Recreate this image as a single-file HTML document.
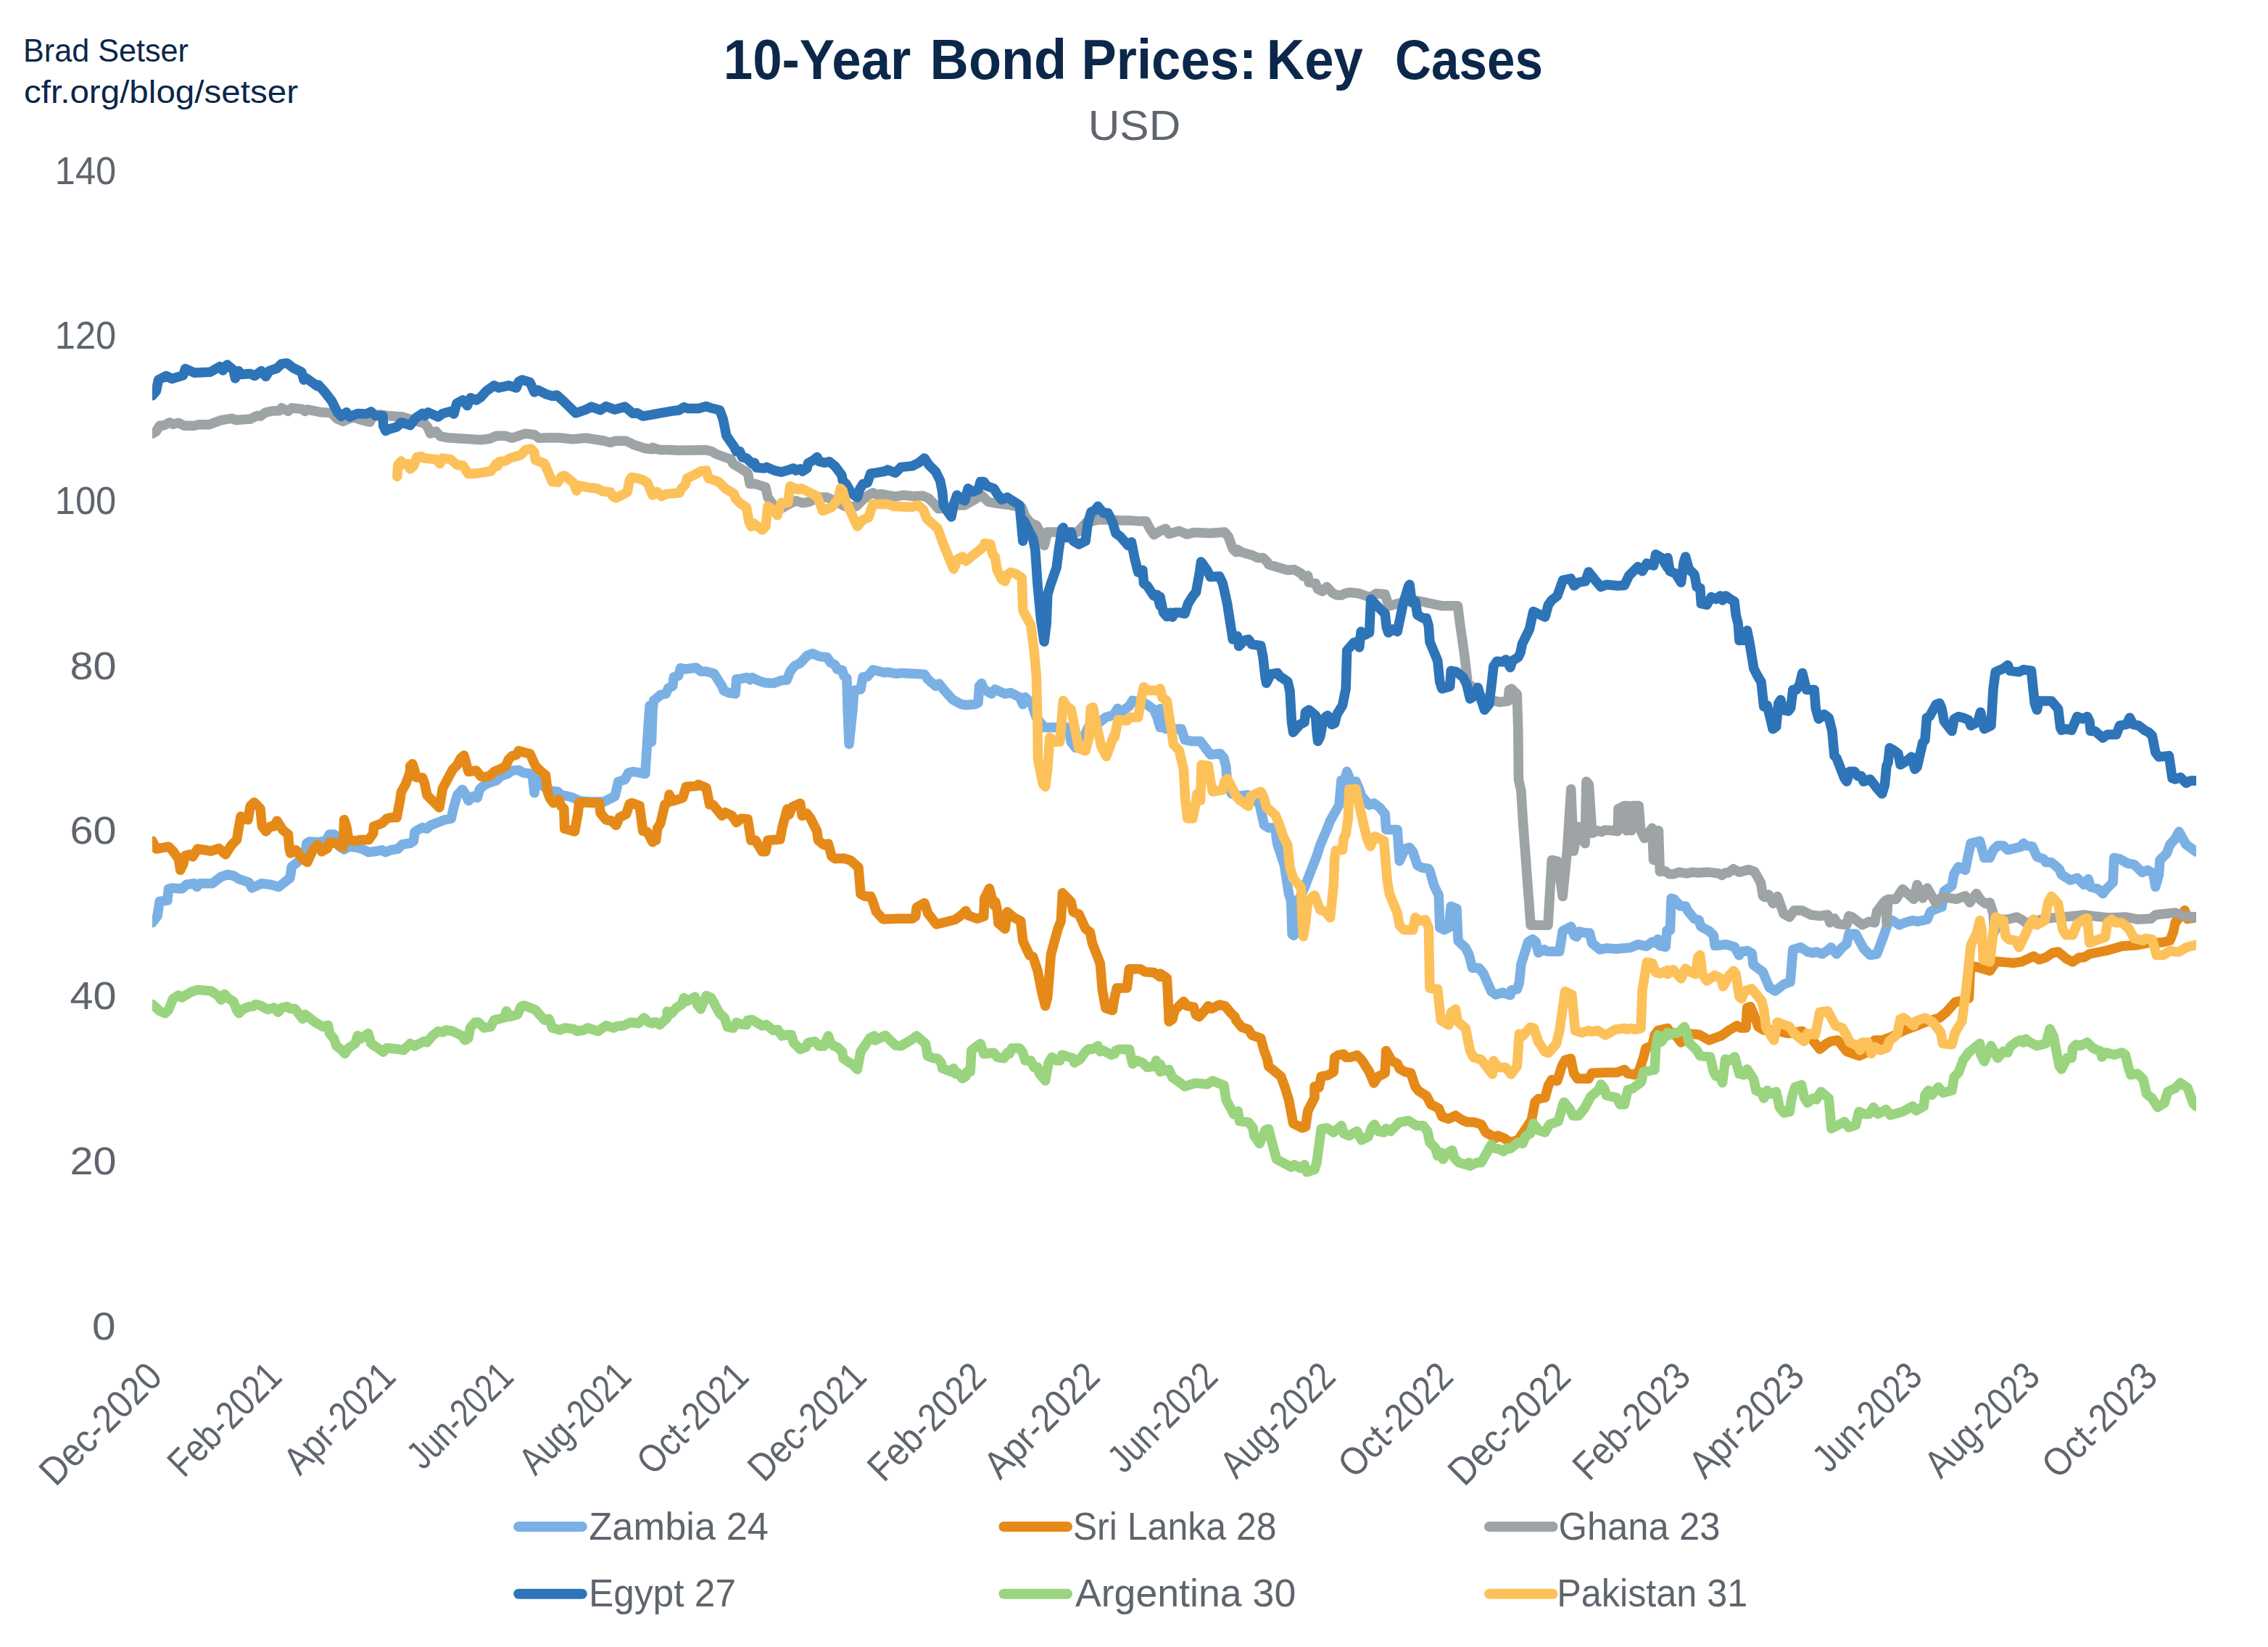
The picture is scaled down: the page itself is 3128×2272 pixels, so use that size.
<!DOCTYPE html>
<html><head><meta charset="utf-8"><title>10-Year Bond Prices: Key Cases</title>
<style>
html,body{margin:0;padding:0;background:#fff;}
body{width:3128px;height:2272px;overflow:hidden;font-family:"Liberation Sans",sans-serif;}
svg{display:block;}
text{font-family:"Liberation Sans",sans-serif;}
</style></head><body>
<svg width="3128" height="2272" viewBox="0 0 3128 2272">
<rect x="0" y="0" width="3128" height="2272" fill="#ffffff"/>
<defs><clipPath id="plot"><rect x="210" y="200" width="2819" height="1700"/></clipPath></defs>
<text x="32.0" y="84.7" font-size="44.0" fill="#0b274a" text-anchor="start" font-weight="normal" textLength="228.0" lengthAdjust="spacingAndGlyphs">Brad Setser</text>
<text x="33.0" y="141.6" font-size="44.0" fill="#0b274a" text-anchor="start" font-weight="normal" textLength="378.0" lengthAdjust="spacingAndGlyphs">cfr.org/blog/setser</text>
<text x="997.8" y="109.0" font-size="77.0" fill="#0b274a" text-anchor="start" font-weight="bold" textLength="258.5" lengthAdjust="spacingAndGlyphs">10-Year</text>
<text x="1282.6" y="109.0" font-size="77.0" fill="#0b274a" text-anchor="start" font-weight="bold" textLength="188.6" lengthAdjust="spacingAndGlyphs">Bond</text>
<text x="1491.5" y="109.0" font-size="77.0" fill="#0b274a" text-anchor="start" font-weight="bold" textLength="241.6" lengthAdjust="spacingAndGlyphs">Prices:</text>
<text x="1746.7" y="109.0" font-size="77.0" fill="#0b274a" text-anchor="start" font-weight="bold" textLength="133.3" lengthAdjust="spacingAndGlyphs">Key</text>
<text x="1924.0" y="109.0" font-size="77.0" fill="#0b274a" text-anchor="start" font-weight="bold" textLength="203.9" lengthAdjust="spacingAndGlyphs">Cases</text>
<text x="1500.7" y="193.0" font-size="58.0" fill="#5f656d" text-anchor="start" font-weight="normal" textLength="127.6" lengthAdjust="spacingAndGlyphs">USD</text>
<text x="127.0" y="1847.5" font-size="54.0" fill="#5f656d" text-anchor="start" font-weight="normal" textLength="32.5" lengthAdjust="spacingAndGlyphs">0</text>
<text x="96.5" y="1619.8" font-size="54.0" fill="#5f656d" text-anchor="start" font-weight="normal" textLength="64.0" lengthAdjust="spacingAndGlyphs">20</text>
<text x="96.5" y="1392.1" font-size="54.0" fill="#5f656d" text-anchor="start" font-weight="normal" textLength="64.0" lengthAdjust="spacingAndGlyphs">40</text>
<text x="96.5" y="1164.4" font-size="54.0" fill="#5f656d" text-anchor="start" font-weight="normal" textLength="64.0" lengthAdjust="spacingAndGlyphs">60</text>
<text x="96.5" y="936.7" font-size="54.0" fill="#5f656d" text-anchor="start" font-weight="normal" textLength="64.0" lengthAdjust="spacingAndGlyphs">80</text>
<text x="75.8" y="709.0" font-size="54.0" fill="#5f656d" text-anchor="start" font-weight="normal" textLength="84.5" lengthAdjust="spacingAndGlyphs">100</text>
<text x="75.8" y="481.3" font-size="54.0" fill="#5f656d" text-anchor="start" font-weight="normal" textLength="84.5" lengthAdjust="spacingAndGlyphs">120</text>
<text x="75.8" y="253.6" font-size="54.0" fill="#5f656d" text-anchor="start" font-weight="normal" textLength="84.5" lengthAdjust="spacingAndGlyphs">140</text>
<g clip-path="url(#plot)" fill="none" stroke-width="13.5" stroke-linejoin="round" stroke-linecap="round">
<path d="M210.2 1272.8 L217.0 1263.6 L220.1 1243.5 L230.9 1242.0 L232.4 1226.5 L237.0 1225.0 L250.9 1225.9 L257.1 1220.3 L267.9 1218.8 L271.6 1223.4 L275.6 1218.8 L292.6 1218.8 L304.9 1209.5 L314.2 1206.5 L321.9 1208.0 L329.6 1212.6 L343.5 1217.3 L347.5 1225.0 L360.5 1218.8 L372.8 1220.3 L384.6 1223.4 L392.9 1216.6 L400.0 1211.1 L402.2 1195.7 L409.9 1189.5 L416.0 1183.3 L420.7 1180.2 L422.8 1163.2 L426.9 1161.1 L440.7 1161.7 L450.0 1158.6 L454.6 1150.9 L460.8 1150.9 L466.0 1158.6 L468.5 1167.9 L474.7 1171.9 L480.9 1167.9 L493.2 1169.4 L499.4 1171.0 L508.6 1175.6 L521.0 1174.0 L527.2 1172.5 L531.8 1175.6 L539.5 1172.5 L548.8 1171.0 L554.9 1164.8 L565.7 1163.2 L570.4 1160.2 L571.9 1147.8 L576.5 1144.7 L582.7 1141.6 L588.9 1143.2 L593.5 1138.6 L613.6 1130.8 L622.2 1129.3 L625.3 1115.4 L627.5 1107.7 L630.6 1096.9 L637.7 1089.2 L642.0 1095.3 L646.0 1104.6 L653.1 1098.4 L658.3 1100.6 L661.4 1089.2 L666.0 1084.5 L673.8 1079.9 L684.6 1076.8 L690.7 1070.7 L700.0 1067.6 L706.2 1062.9 L715.4 1062.3 L721.6 1066.0 L734.0 1067.6 L737.0 1093.8 L738.6 1081.5 L741.7 1076.8 L752.5 1087.6 L758.6 1090.7 L769.4 1092.3 L774.1 1096.3 L789.5 1100.0 L798.8 1104.6 L814.2 1106.1 L832.7 1106.1 L848.1 1098.4 L852.8 1078.4 L862.0 1075.3 L866.7 1066.0 L872.8 1064.5 L879.0 1065.4 L889.8 1067.6 L892.9 1019.7 L896.0 973.4 L898.5 1023.5 L900.0 980.2 L901.5 966.4 L907.7 961.7 L910.8 958.6 L918.5 957.1 L921.6 949.4 L927.8 946.3 L929.3 934.0 L935.5 932.4 L938.6 921.6 L944.8 923.1 L960.2 921.0 L966.4 926.2 L974.1 926.2 L984.9 929.3 L995.7 946.3 L998.1 952.5 L1004.9 955.6 L1014.2 957.1 L1015.7 937.0 L1021.9 936.4 L1029.6 934.6 L1034.3 937.7 L1037.3 934.6 L1045.1 938.6 L1054.3 941.7 L1066.7 942.6 L1077.5 938.6 L1085.2 938.0 L1089.8 926.2 L1096.0 918.5 L1103.7 914.8 L1113.0 904.6 L1120.7 901.5 L1129.9 905.6 L1140.7 906.8 L1145.4 913.9 L1151.5 917.0 L1154.6 923.1 L1161.7 924.7 L1163.9 932.4 L1167.9 935.5 L1169.1 980.2 L1171.0 1026.5 L1176.2 977.2 L1177.8 952.5 L1187.0 950.9 L1190.1 934.0 L1196.3 933.3 L1204.0 924.1 L1219.4 927.8 L1224.1 927.2 L1236.4 929.3 L1244.1 928.4 L1275.0 930.2 L1279.6 937.0 L1290.4 946.3 L1295.1 943.2 L1301.2 950.9 L1313.6 964.8 L1325.9 971.6 L1332.1 972.5 L1344.4 971.6 L1349.1 969.4 L1350.6 946.3 L1353.7 942.6 L1356.8 950.9 L1367.6 957.1 L1372.2 950.9 L1386.1 957.1 L1393.8 955.6 L1406.2 961.7 L1410.8 971.6 L1413.9 961.7 L1423.1 971.0 L1429.3 989.5 L1440.1 1003.4 L1455.6 1003.4 L1467.9 1001.9 L1474.1 1006.5 L1477.2 1023.5 L1483.3 1031.2 L1492.6 1026.5 L1495.7 1014.2 L1504.9 995.7 L1517.3 995.7 L1525.0 989.5 L1535.8 986.4 L1541.4 977.2 L1546.6 981.8 L1557.4 974.1 L1562.0 966.4 L1580.6 971.0 L1591.4 978.7 L1596.0 989.5 L1600.0 1003.4 L1600.0 977.8 L1604.6 1002.5 L1607.7 1005.6 L1629.3 1005.6 L1634.0 1020.4 L1643.2 1022.5 L1655.6 1022.5 L1669.4 1041.0 L1682.7 1039.5 L1688.0 1045.7 L1691.0 1058.0 L1692.6 1082.7 L1698.8 1095.1 L1709.6 1098.1 L1720.4 1096.6 L1729.6 1099.7 L1737.3 1110.5 L1743.5 1138.3 L1749.7 1142.0 L1759.0 1142.0 L1760.5 1156.8 L1762.0 1165.4 L1771.3 1193.2 L1777.5 1233.3 L1780.6 1242.6 L1782.1 1288.9 L1784.6 1290.4 L1786.4 1251.9 L1800.6 1221.0 L1802.2 1216.4 L1816.0 1180.9 L1820.7 1166.0 L1829.9 1144.4 L1834.6 1132.1 L1846.9 1110.5 L1850.0 1076.5 L1854.6 1075.0 L1857.7 1064.2 L1860.8 1071.9 L1862.3 1079.6 L1870.1 1078.1 L1874.7 1088.9 L1877.8 1098.1 L1888.6 1110.5 L1894.8 1108.0 L1902.5 1113.6 L1910.2 1122.8 L1911.7 1144.4 L1927.2 1144.4 L1930.2 1187.7 L1938.0 1170.7 L1944.1 1169.1 L1948.8 1175.3 L1954.9 1193.8 L1961.1 1196.9 L1970.4 1198.5 L1971.9 1200.9 L1978.1 1222.5 L1984.3 1234.9 L1985.8 1279.6 L1992.0 1282.7 L1998.1 1279.6 L2001.2 1250.3 L2009.0 1253.4 L2011.1 1298.1 L2021.3 1307.4 L2025.9 1316.7 L2030.6 1335.2 L2039.8 1335.2 L2046.0 1342.9 L2056.8 1367.6 L2063.0 1372.2 L2072.2 1369.1 L2083.0 1372.8 L2084.6 1366.0 L2092.3 1364.5 L2095.4 1355.2 L2097.9 1330.3 L2107.6 1299.3 L2113.8 1295.7 L2118.2 1299.3 L2121.7 1314.3 L2129.7 1309.8 L2134.1 1312.5 L2150.8 1312.5 L2155.2 1284.3 L2166.7 1278.1 L2171.1 1290.4 L2174.6 1292.2 L2178.2 1285.1 L2186.1 1286.9 L2192.3 1286.9 L2195.8 1301.0 L2206.4 1309.8 L2215.2 1308.1 L2229.3 1309.0 L2248.7 1307.2 L2259.3 1302.8 L2270.8 1305.4 L2278.7 1299.3 L2283.1 1301.0 L2286.6 1295.7 L2289.3 1304.6 L2297.2 1306.3 L2299.0 1283.4 L2303.4 1283.4 L2305.1 1239.3 L2308.7 1240.2 L2317.5 1249.9 L2324.6 1249.9 L2328.1 1256.9 L2336.9 1267.5 L2343.1 1269.3 L2345.7 1278.1 L2357.2 1284.3 L2363.4 1290.4 L2365.1 1304.6 L2373.1 1303.7 L2380.1 1302.8 L2392.5 1306.3 L2398.6 1317.8 L2402.2 1312.5 L2410.1 1311.6 L2416.3 1315.1 L2418.0 1330.3 L2418.8 1331.5 L2431.2 1340.7 L2440.4 1362.3 L2448.1 1367.0 L2454.3 1362.3 L2460.5 1357.7 L2469.1 1354.6 L2472.8 1309.9 L2483.6 1306.8 L2492.9 1313.0 L2500.6 1314.5 L2505.2 1313.0 L2513.0 1316.0 L2522.2 1309.9 L2525.3 1306.8 L2533.0 1316.0 L2540.7 1306.8 L2546.9 1302.2 L2550.0 1288.3 L2559.3 1288.3 L2570.1 1308.3 L2579.3 1317.6 L2588.6 1316.0 L2597.8 1291.4 L2604.0 1272.8 L2610.2 1269.8 L2619.4 1275.9 L2627.2 1272.8 L2638.0 1269.8 L2644.1 1271.3 L2658.0 1268.2 L2662.7 1257.4 L2668.8 1254.3 L2678.1 1251.2 L2681.2 1229.6 L2692.0 1221.9 L2695.1 1204.9 L2701.2 1195.7 L2710.5 1200.3 L2715.1 1177.2 L2718.2 1163.3 L2730.6 1160.2 L2736.7 1183.3 L2744.4 1183.3 L2749.1 1172.5 L2755.2 1166.4 L2763.0 1166.4 L2769.1 1172.5 L2787.7 1167.9 L2790.7 1163.3 L2793.8 1166.4 L2803.1 1167.9 L2809.3 1181.8 L2818.5 1184.9 L2821.6 1189.5 L2829.3 1189.5 L2840.1 1198.8 L2843.2 1206.5 L2855.6 1214.2 L2864.8 1211.1 L2874.1 1220.4 L2880.2 1212.7 L2883.3 1223.5 L2894.1 1226.5 L2900.3 1232.7 L2904.9 1226.5 L2914.2 1217.3 L2915.7 1183.3 L2923.5 1184.9 L2934.3 1191.0 L2943.5 1192.6 L2954.3 1203.4 L2962.0 1200.3 L2969.8 1204.9 L2972.8 1223.5 L2977.5 1206.5 L2979.0 1186.4 L2988.3 1177.2 L2992.9 1164.8 L3000.0 1157.1 L3005.2 1147.3 L3015.1 1165.1 L3028.9 1174.9" stroke="#7bb0e4"/>
<path d="M210.2 1160.2 L215.4 1171.0 L224.7 1169.4 L232.4 1167.9 L238.6 1174.0 L246.3 1184.9 L248.8 1200.3 L252.5 1192.6 L255.6 1180.2 L261.7 1178.7 L265.7 1181.8 L272.5 1171.0 L291.0 1174.0 L301.9 1170.3 L311.1 1178.7 L318.8 1166.3 L326.5 1158.6 L329.6 1140.1 L332.1 1126.2 L342.0 1130.8 L345.1 1112.3 L350.6 1106.8 L359.0 1115.4 L361.4 1140.1 L366.7 1146.9 L372.8 1140.1 L377.5 1140.1 L382.1 1132.4 L389.8 1144.7 L397.5 1150.9 L399.1 1171.0 L400.6 1177.1 L408.3 1172.5 L416.0 1183.3 L423.8 1189.5 L431.5 1172.5 L438.3 1165.4 L443.8 1174.7 L451.5 1170.3 L454.6 1161.7 L462.3 1163.2 L473.1 1168.8 L474.7 1130.8 L477.8 1140.1 L480.9 1158.6 L490.1 1160.2 L496.3 1158.6 L508.6 1158.6 L514.8 1149.4 L515.4 1140.1 L527.2 1135.5 L533.3 1129.3 L539.5 1127.8 L547.2 1127.8 L551.9 1103.1 L553.4 1092.3 L559.6 1081.5 L565.7 1064.5 L565.7 1056.8 L568.8 1053.7 L571.9 1062.9 L574.1 1072.2 L582.7 1072.8 L585.8 1081.5 L588.9 1096.9 L593.5 1101.5 L599.7 1107.7 L605.9 1113.9 L608.3 1100.0 L610.5 1087.6 L624.4 1061.4 L630.6 1055.2 L635.2 1046.0 L639.8 1042.0 L642.3 1050.6 L646.0 1064.5 L656.8 1062.9 L663.0 1070.7 L669.1 1072.2 L676.9 1069.1 L681.5 1064.5 L692.3 1059.9 L697.5 1056.8 L701.5 1047.5 L706.2 1042.9 L712.3 1041.3 L715.4 1035.8 L721.6 1037.6 L730.9 1039.8 L738.6 1056.8 L746.3 1064.5 L752.5 1069.1 L755.6 1093.8 L758.6 1101.5 L763.3 1107.7 L771.0 1103.1 L774.1 1112.3 L777.8 1115.4 L778.7 1143.2 L792.6 1146.9 L797.2 1121.6 L798.8 1106.8 L826.5 1107.7 L828.1 1121.6 L835.8 1130.8 L843.5 1132.4 L849.7 1138.6 L854.3 1127.8 L863.6 1123.1 L868.2 1109.2 L871.3 1107.7 L882.1 1111.7 L886.7 1146.3 L892.9 1147.8 L900.0 1161.7 L900.0 1159.3 L904.6 1159.3 L906.8 1142.3 L910.8 1136.1 L917.0 1109.9 L921.6 1106.8 L923.1 1096.0 L927.8 1105.2 L941.7 1100.6 L946.3 1085.2 L960.2 1084.6 L963.3 1082.1 L974.1 1086.7 L978.7 1109.9 L983.3 1109.9 L995.7 1125.3 L1000.3 1120.7 L1009.6 1125.3 L1015.7 1134.6 L1021.9 1129.3 L1031.2 1129.9 L1035.8 1159.3 L1042.0 1159.3 L1051.2 1174.7 L1055.9 1174.7 L1059.0 1159.3 L1075.9 1157.7 L1079.0 1140.7 L1085.8 1116.0 L1088.3 1123.8 L1092.9 1113.0 L1103.7 1108.3 L1106.2 1125.3 L1113.0 1122.2 L1117.6 1128.4 L1126.9 1146.9 L1128.4 1159.3 L1136.1 1165.4 L1142.3 1163.9 L1146.9 1180.9 L1151.5 1184.6 L1163.9 1184.0 L1173.1 1187.0 L1184.0 1196.3 L1187.0 1233.3 L1193.2 1236.4 L1200.9 1236.4 L1204.0 1244.1 L1208.6 1258.0 L1217.9 1267.9 L1239.5 1267.3 L1258.0 1267.3 L1262.7 1264.2 L1264.2 1251.9 L1275.0 1245.7 L1279.6 1259.6 L1291.4 1275.0 L1298.1 1273.5 L1316.7 1268.8 L1324.4 1263.6 L1332.1 1256.5 L1335.2 1262.7 L1347.5 1267.3 L1356.8 1264.2 L1357.7 1239.5 L1364.5 1225.6 L1370.7 1248.8 L1372.8 1244.1 L1375.3 1254.9 L1376.9 1273.5 L1386.1 1281.2 L1389.2 1258.0 L1398.5 1265.7 L1407.7 1270.4 L1410.8 1298.1 L1420.1 1318.2 L1424.7 1319.8 L1430.9 1338.3 L1437.0 1369.1 L1441.7 1387.7 L1444.8 1375.3 L1449.4 1316.7 L1458.6 1282.7 L1463.3 1270.4 L1465.4 1231.8 L1477.2 1244.1 L1480.2 1258.0 L1488.0 1261.1 L1497.2 1281.2 L1503.4 1285.8 L1506.5 1301.2 L1517.3 1329.0 L1520.4 1366.0 L1525.0 1390.7 L1534.3 1393.8 L1537.3 1375.3 L1540.4 1363.0 L1554.3 1363.0 L1557.4 1336.7 L1572.8 1336.7 L1579.0 1340.7 L1591.4 1341.4 L1600.0 1347.5 L1600.0 1342.9 L1609.3 1349.1 L1610.8 1375.3 L1612.3 1409.3 L1617.0 1406.2 L1620.1 1393.8 L1632.4 1381.5 L1637.0 1387.7 L1646.3 1389.2 L1649.4 1400.0 L1654.0 1402.5 L1661.7 1393.8 L1666.4 1387.7 L1671.0 1391.4 L1681.8 1386.1 L1689.5 1387.7 L1697.2 1396.9 L1703.4 1403.1 L1704.9 1407.7 L1712.7 1417.0 L1721.9 1420.1 L1726.5 1427.8 L1738.9 1432.4 L1743.5 1449.4 L1748.1 1461.7 L1749.7 1471.0 L1766.7 1484.9 L1772.8 1501.9 L1777.5 1517.3 L1783.6 1549.7 L1796.0 1555.9 L1800.6 1554.3 L1803.7 1532.7 L1813.0 1514.2 L1813.0 1498.8 L1819.1 1500.3 L1822.2 1484.9 L1831.5 1483.3 L1839.2 1478.7 L1840.7 1458.6 L1845.4 1455.6 L1853.1 1454.0 L1856.2 1458.6 L1862.3 1458.6 L1871.6 1455.6 L1877.8 1461.7 L1888.6 1478.7 L1894.8 1494.1 L1900.9 1484.9 L1910.2 1480.2 L1911.7 1449.4 L1919.4 1463.3 L1927.2 1467.3 L1930.2 1474.1 L1938.0 1478.7 L1945.7 1480.2 L1951.9 1498.8 L1956.5 1504.9 L1967.3 1511.7 L1973.5 1523.5 L1984.3 1529.0 L1988.9 1540.4 L1998.1 1543.5 L2007.4 1538.9 L2016.7 1545.1 L2024.4 1548.1 L2033.6 1548.1 L2042.9 1551.2 L2049.1 1562.0 L2063.0 1569.8 L2066.0 1566.7 L2075.3 1570.4 L2081.5 1575.9 L2093.8 1572.8 L2106.2 1554.3 L2112.3 1545.1 L2117.0 1520.4 L2121.6 1515.7 L2130.9 1514.2 L2135.5 1497.2 L2140.1 1489.5 L2147.8 1491.0 L2154.0 1471.0 L2158.6 1462.3 L2166.4 1460.2 L2170.4 1480.2 L2175.6 1488.0 L2186.4 1488.0 L2191.0 1488.0 L2195.7 1480.2 L2214.2 1479.6 L2229.6 1479.6 L2240.4 1475.6 L2245.1 1480.9 L2254.3 1482.7 L2260.5 1477.2 L2266.7 1458.6 L2269.8 1446.3 L2279.0 1441.7 L2282.1 1427.8 L2286.7 1421.6 L2300.0 1418.5 L2300.0 1422.5 L2306.2 1424.1 L2313.9 1431.8 L2318.5 1438.0 L2326.2 1425.6 L2343.2 1427.2 L2357.1 1434.9 L2374.1 1428.7 L2384.9 1421.0 L2395.7 1414.8 L2400.3 1417.9 L2408.0 1417.9 L2409.6 1390.1 L2414.2 1388.6 L2418.8 1399.4 L2425.0 1416.4 L2432.7 1421.0 L2445.1 1421.0 L2466.7 1425.6 L2485.2 1422.5 L2497.5 1431.8 L2509.9 1447.2 L2519.1 1439.5 L2525.3 1436.4 L2534.6 1434.9 L2546.9 1450.3 L2563.9 1456.5 L2574.7 1451.9 L2585.5 1434.9 L2596.3 1434.9 L2608.6 1430.2 L2627.2 1421.0 L2639.5 1416.4 L2654.9 1410.2 L2675.0 1404.0 L2684.3 1396.3 L2696.6 1382.4 L2710.5 1379.3 L2715.4 1376.9 L2717.6 1332.1 L2731.2 1335.2 L2744.4 1339.2 L2753.1 1326.2 L2776.9 1328.4 L2787.7 1326.9 L2804.6 1319.1 L2812.3 1323.8 L2821.6 1320.7 L2830.9 1314.5 L2838.6 1313.0 L2849.4 1322.2 L2858.6 1326.9 L2867.9 1320.7 L2874.1 1320.7 L2881.8 1316.0 L2904.9 1311.4 L2926.5 1305.2 L2948.1 1303.7 L2963.6 1300.6 L2982.1 1300.0 L2992.9 1297.5 L2997.5 1285.2 L3000.0 1272.8 L3009.2 1261.8 L3013.1 1255.8 L3017.0 1267.7 L3028.9 1265.7" stroke="#e58a18"/>
<path d="M210.2 598.1 L215.4 595.1 L220.1 587.3 L226.2 586.7 L234.0 582.7 L238.6 585.2 L246.3 583.3 L254.0 587.3 L267.9 587.3 L274.1 585.8 L288.0 585.8 L304.9 579.6 L320.4 577.2 L325.0 579.6 L345.1 578.1 L354.3 573.5 L359.0 574.1 L366.7 568.8 L377.5 566.7 L385.2 566.7 L388.3 562.7 L397.5 567.3 L402.2 562.7 L416.0 564.2 L420.7 567.3 L423.8 564.8 L443.8 568.8 L456.2 569.4 L465.4 578.1 L473.1 581.2 L484.0 576.5 L490.1 576.5 L499.4 579.6 L510.2 582.1 L514.8 573.5 L524.1 571.9 L534.9 573.5 L554.9 575.0 L570.4 579.6 L585.8 584.3 L590.4 590.4 L593.5 598.1 L601.2 595.1 L607.4 601.9 L616.7 603.7 L663.0 606.8 L675.3 605.2 L684.6 601.2 L696.9 601.2 L706.2 604.3 L715.4 601.2 L724.7 598.1 L737.0 599.7 L743.2 604.3 L771.0 603.7 L789.5 605.9 L808.0 604.3 L832.7 608.0 L842.0 610.5 L848.1 608.3 L863.6 608.3 L874.4 613.6 L888.3 618.2 L900.0 619.8 L900.0 617.3 L909.3 620.4 L921.6 620.4 L937.0 621.3 L974.1 620.7 L981.8 622.8 L988.0 626.5 L1008.0 633.6 L1011.1 639.8 L1031.2 652.2 L1034.3 667.6 L1042.0 667.6 L1055.9 672.2 L1059.0 686.1 L1066.7 696.9 L1079.0 700.6 L1085.2 696.9 L1097.5 690.7 L1106.8 693.8 L1116.0 692.3 L1128.4 686.1 L1140.7 686.1 L1156.2 693.8 L1165.4 698.5 L1180.9 698.5 L1190.1 689.2 L1197.8 683.0 L1204.0 679.9 L1210.2 683.0 L1214.8 681.5 L1234.9 685.2 L1245.7 683.0 L1261.1 684.6 L1273.5 684.0 L1281.2 687.7 L1288.9 695.4 L1293.5 701.5 L1301.2 701.5 L1316.7 696.9 L1330.6 696.9 L1344.4 689.2 L1353.7 683.0 L1363.0 692.3 L1381.5 695.4 L1393.8 696.9 L1409.3 700.0 L1413.9 712.3 L1421.6 721.6 L1429.3 724.7 L1435.5 735.5 L1440.1 752.5 L1444.8 734.0 L1486.4 734.0 L1497.2 721.6 L1514.2 717.0 L1529.6 717.0 L1548.1 717.9 L1559.0 717.9 L1572.8 719.1 L1580.6 719.1 L1586.7 730.9 L1591.4 737.7 L1600.0 732.4 L1600.0 732.4 L1607.7 729.3 L1612.3 736.4 L1626.2 732.4 L1637.0 737.0 L1646.3 734.6 L1669.4 735.5 L1688.9 734.0 L1694.1 740.1 L1700.3 757.1 L1704.9 761.7 L1706.5 758.0 L1714.2 762.3 L1726.5 765.7 L1734.3 769.4 L1742.0 769.4 L1748.1 775.6 L1749.7 778.7 L1775.9 786.4 L1785.2 785.8 L1794.4 791.0 L1797.5 795.1 L1803.7 794.1 L1805.2 803.4 L1814.5 804.9 L1817.6 812.7 L1823.8 815.7 L1829.9 809.6 L1837.7 817.9 L1843.8 821.0 L1850.0 821.0 L1856.2 818.2 L1862.3 817.3 L1874.7 818.8 L1890.1 824.1 L1897.8 818.8 L1910.2 819.8 L1913.3 829.6 L1916.4 835.8 L1927.2 832.7 L1942.6 828.1 L1951.9 828.1 L1967.3 831.2 L1973.5 832.7 L1988.9 835.8 L2010.5 835.8 L2013.6 860.5 L2019.8 903.7 L2024.4 943.8 L2030.6 946.9 L2044.4 962.3 L2061.4 967.0 L2069.1 968.5 L2079.9 967.0 L2081.5 951.5 L2084.6 950.0 L2092.3 957.7 L2093.8 1008.6 L2094.4 1075.0 L2097.9 1091.1 L2100.6 1135.2 L2111.1 1276.3 L2135.0 1276.3 L2140.2 1186.4 L2148.2 1188.1 L2155.2 1236.6 L2161.4 1174.0 L2166.7 1088.5 L2170.2 1174.0 L2177.3 1140.5 L2186.1 1163.5 L2187.9 1077.9 L2191.4 1082.3 L2195.8 1149.3 L2203.7 1145.8 L2209.0 1147.6 L2213.4 1144.9 L2224.9 1145.8 L2231.1 1146.7 L2232.0 1115.8 L2240.8 1111.4 L2243.4 1145.8 L2245.2 1111.4 L2249.6 1145.8 L2251.4 1111.4 L2260.2 1111.4 L2262.8 1145.8 L2268.1 1156.4 L2278.7 1142.3 L2280.5 1186.4 L2283.1 1145.8 L2287.5 1145.8 L2289.3 1202.3 L2296.3 1201.4 L2302.5 1205.8 L2307.8 1205.8 L2315.7 1203.1 L2326.3 1204.9 L2334.3 1203.1 L2342.2 1204.0 L2356.3 1203.1 L2370.4 1204.9 L2374.8 1207.5 L2379.2 1204.0 L2383.6 1204.0 L2390.7 1198.7 L2398.6 1203.1 L2411.9 1199.6 L2419.8 1202.3 L2428.6 1218.1 L2431.3 1235.8 L2433.9 1237.5 L2439.2 1234.0 L2445.4 1246.3 L2451.5 1236.6 L2460.0 1260.5 L2468.2 1265.1 L2474.4 1255.9 L2485.2 1255.9 L2497.5 1262.0 L2509.9 1263.6 L2520.7 1262.0 L2523.8 1272.8 L2529.9 1266.7 L2534.6 1274.4 L2546.9 1275.9 L2550.0 1263.6 L2554.6 1265.1 L2560.8 1269.8 L2568.5 1275.9 L2577.8 1271.3 L2585.5 1272.8 L2588.6 1257.4 L2597.8 1245.1 L2600.9 1242.0 L2601.9 1272.8 L2604.0 1240.4 L2614.8 1240.4 L2624.1 1226.5 L2639.5 1240.4 L2644.1 1220.4 L2651.9 1238.9 L2658.0 1225.0 L2664.2 1235.8 L2670.4 1246.6 L2678.1 1237.3 L2688.9 1238.9 L2698.1 1240.4 L2710.5 1235.8 L2716.7 1245.1 L2725.9 1232.7 L2732.1 1242.0 L2738.3 1246.6 L2744.4 1245.1 L2749.1 1260.5 L2750.6 1285.2 L2759.9 1268.2 L2769.1 1268.2 L2781.5 1265.1 L2787.7 1268.2 L2793.8 1272.8 L2824.7 1266.7 L2843.2 1265.1 L2861.7 1263.6 L2874.1 1262.0 L2886.4 1263.6 L2908.0 1266.0 L2932.7 1265.1 L2948.1 1268.2 L2966.7 1267.3 L2972.8 1262.0 L3000.0 1259.0 L3013.1 1263.7 L3028.9 1264.9" stroke="#9ea3a5"/>
<path d="M210.2 545.7 L215.4 539.5 L218.5 524.1 L229.3 518.5 L237.0 522.5 L252.5 517.9 L255.6 508.6 L267.9 514.2 L289.5 513.3 L303.4 505.6 L307.4 511.1 L313.3 503.1 L321.9 510.2 L324.4 521.9 L329.0 511.7 L332.7 516.4 L345.1 515.4 L351.2 518.5 L360.5 511.7 L366.7 519.4 L371.3 511.7 L382.1 508.0 L388.3 501.9 L396.0 500.9 L403.7 507.1 L416.0 513.3 L419.1 524.1 L422.2 521.6 L437.7 532.7 L439.2 530.9 L446.9 539.5 L457.7 553.4 L462.3 562.7 L465.4 568.8 L470.7 574.4 L477.8 568.8 L482.4 575.0 L493.2 570.4 L505.6 571.0 L511.7 567.9 L517.9 573.5 L527.8 573.5 L528.7 587.3 L531.8 594.4 L536.4 592.0 L547.2 588.9 L553.4 582.7 L565.7 586.7 L573.5 576.5 L582.7 570.4 L585.8 573.5 L590.4 568.8 L604.3 575.0 L610.5 570.4 L624.4 566.7 L625.9 571.0 L629.9 556.5 L638.3 551.9 L644.4 559.6 L649.1 548.8 L656.8 551.9 L663.0 548.1 L670.7 539.5 L681.5 531.8 L687.7 534.9 L701.5 531.8 L712.3 534.9 L715.4 526.5 L720.1 524.1 L730.9 527.2 L737.0 541.0 L741.7 538.0 L754.0 544.1 L761.7 546.3 L767.9 545.1 L775.6 551.9 L794.1 569.8 L806.5 565.7 L815.7 561.1 L828.1 565.7 L835.8 560.5 L848.1 565.1 L862.0 561.1 L872.8 570.4 L879.0 569.8 L886.7 574.1 L900.0 571.9 L900.0 571.9 L907.7 570.4 L929.3 566.7 L937.0 565.7 L943.2 561.7 L949.4 563.6 L963.3 563.6 L974.1 560.5 L980.2 562.7 L992.6 565.7 L997.2 578.1 L1001.9 601.2 L1012.7 616.7 L1015.7 622.8 L1020.4 622.8 L1023.5 630.6 L1029.6 632.1 L1037.3 639.8 L1040.4 638.3 L1043.5 645.1 L1054.3 646.0 L1057.4 644.4 L1068.2 649.1 L1077.5 651.2 L1085.2 649.1 L1094.4 646.0 L1097.5 649.1 L1103.7 646.9 L1106.8 650.0 L1113.0 646.0 L1114.5 638.9 L1122.2 634.6 L1126.9 630.6 L1129.9 636.7 L1137.7 638.3 L1143.8 636.7 L1151.5 642.9 L1160.8 655.2 L1162.3 663.0 L1167.0 667.6 L1173.1 678.4 L1177.8 683.0 L1182.4 686.1 L1185.5 675.3 L1190.1 667.6 L1196.3 666.0 L1200.9 653.1 L1208.6 652.2 L1221.0 650.0 L1224.1 648.1 L1234.9 652.2 L1242.6 644.4 L1258.0 642.9 L1267.3 638.3 L1275.0 632.1 L1281.2 641.4 L1290.4 650.6 L1296.6 663.0 L1299.7 678.4 L1301.2 696.9 L1307.4 706.2 L1312.0 713.0 L1315.1 696.9 L1319.8 683.0 L1325.9 687.7 L1330.6 690.7 L1335.2 673.8 L1341.4 678.4 L1349.1 675.3 L1352.2 664.5 L1356.8 664.5 L1361.4 670.7 L1370.7 673.8 L1375.3 681.5 L1381.5 689.2 L1389.2 686.1 L1406.2 696.9 L1410.8 746.3 L1412.3 718.5 L1424.7 743.2 L1427.8 758.6 L1430.9 804.9 L1435.5 854.3 L1440.1 885.2 L1443.2 860.5 L1444.8 820.4 L1449.4 804.9 L1457.1 783.3 L1460.2 758.6 L1464.8 729.3 L1466.4 727.8 L1471.0 741.7 L1477.2 734.0 L1480.2 746.3 L1488.0 750.9 L1497.2 746.3 L1500.3 721.6 L1504.9 706.2 L1509.6 704.6 L1514.2 698.5 L1521.9 707.7 L1528.1 707.7 L1534.3 720.1 L1538.9 735.5 L1545.1 740.1 L1555.9 752.5 L1560.5 747.8 L1565.1 771.0 L1569.8 789.5 L1575.9 786.4 L1577.5 804.9 L1582.1 808.0 L1591.4 821.9 L1596.0 820.4 L1600.0 835.8 L1600.0 823.5 L1604.6 845.1 L1609.3 850.6 L1613.9 845.1 L1617.0 851.2 L1620.1 845.1 L1627.8 845.1 L1634.0 846.6 L1638.6 832.7 L1646.3 820.4 L1649.4 817.3 L1654.0 792.6 L1656.5 775.0 L1664.8 786.4 L1669.4 795.7 L1681.8 795.1 L1686.4 804.9 L1692.6 832.7 L1700.3 882.1 L1706.5 877.5 L1708.6 891.4 L1715.7 883.6 L1721.9 882.1 L1726.5 888.9 L1738.9 890.7 L1742.0 906.8 L1745.1 934.6 L1746.6 942.3 L1752.8 929.9 L1762.0 928.4 L1765.1 933.0 L1775.9 940.1 L1779.0 953.1 L1781.5 996.3 L1783.6 1010.2 L1792.9 999.4 L1799.1 996.3 L1800.6 982.4 L1805.2 979.3 L1814.5 987.0 L1816.0 1008.6 L1817.6 1022.5 L1820.7 1016.4 L1825.3 991.7 L1830.9 987.0 L1837.0 999.4 L1840.7 997.8 L1843.8 985.5 L1851.5 973.1 L1856.2 950.0 L1857.7 897.5 L1867.0 886.7 L1871.6 885.2 L1874.7 892.9 L1877.2 871.3 L1882.4 875.9 L1888.6 872.8 L1890.7 826.5 L1897.8 834.3 L1910.2 846.6 L1912.3 865.1 L1914.8 872.8 L1921.0 868.2 L1927.2 871.3 L1934.9 834.3 L1942.6 808.6 L1944.1 806.5 L1947.2 831.2 L1951.9 829.6 L1954.9 848.1 L1962.7 852.8 L1967.3 852.8 L1970.4 863.6 L1971.9 885.2 L1982.7 911.4 L1985.8 940.7 L1988.9 950.0 L1999.7 946.9 L2001.2 925.3 L2009.0 926.9 L2018.2 934.6 L2022.8 943.8 L2027.5 963.9 L2032.1 960.8 L2038.3 948.5 L2042.9 965.4 L2047.5 979.3 L2053.7 971.6 L2056.8 946.9 L2059.9 919.1 L2064.5 912.3 L2072.2 913.0 L2076.9 909.9 L2083.0 920.7 L2086.1 911.4 L2093.8 906.8 L2096.9 900.6 L2099.4 888.3 L2109.3 868.2 L2114.8 843.5 L2123.1 847.5 L2130.9 851.2 L2135.5 834.3 L2140.1 828.1 L2147.8 821.9 L2155.6 800.3 L2166.4 798.1 L2171.0 808.0 L2177.2 803.4 L2186.4 801.9 L2191.0 788.9 L2198.8 798.8 L2208.0 809.6 L2215.7 806.5 L2231.2 808.0 L2240.4 807.4 L2246.6 794.1 L2259.0 781.8 L2265.1 788.0 L2271.3 777.2 L2280.6 780.2 L2283.6 764.8 L2291.4 769.4 L2300.0 783.3 L2300.0 769.4 L2303.1 788.0 L2310.8 791.0 L2318.5 803.4 L2322.2 775.6 L2324.7 767.9 L2329.3 784.9 L2337.0 792.6 L2340.1 809.6 L2344.8 811.1 L2346.3 832.7 L2354.0 834.3 L2360.2 823.5 L2366.4 826.5 L2372.5 821.9 L2375.6 828.1 L2380.2 821.9 L2386.4 826.5 L2392.0 829.6 L2394.1 848.1 L2397.2 860.5 L2398.8 883.6 L2406.5 882.1 L2409.6 869.8 L2412.7 885.2 L2418.8 922.2 L2423.5 931.5 L2429.0 940.7 L2432.7 974.7 L2437.3 973.1 L2445.1 1005.6 L2449.7 1002.5 L2452.8 970.1 L2455.9 965.4 L2459.0 979.3 L2466.7 980.9 L2469.8 976.2 L2472.8 951.5 L2477.5 951.5 L2482.1 943.8 L2485.8 928.4 L2491.4 951.5 L2502.2 951.5 L2504.3 977.8 L2508.3 991.7 L2516.0 985.5 L2522.2 990.1 L2526.9 1008.6 L2529.9 1042.6 L2533.0 1045.7 L2543.8 1073.5 L2546.9 1078.1 L2551.5 1064.2 L2557.7 1064.2 L2562.3 1070.4 L2567.0 1070.4 L2570.1 1078.1 L2579.3 1075.0 L2588.6 1087.3 L2595.7 1095.1 L2599.4 1082.7 L2601.9 1056.5 L2604.0 1051.9 L2606.2 1031.8 L2611.7 1034.9 L2617.9 1039.5 L2621.0 1054.9 L2628.7 1050.3 L2636.4 1044.1 L2641.0 1061.1 L2644.1 1058.0 L2651.9 1024.1 L2654.9 1021.0 L2657.4 990.1 L2661.1 988.6 L2670.4 971.6 L2675.0 970.1 L2678.1 977.8 L2681.2 994.8 L2692.0 1008.6 L2695.1 991.7 L2701.2 988.6 L2707.4 990.1 L2715.1 993.2 L2718.2 1000.9 L2727.5 996.3 L2731.5 982.4 L2736.7 1005.6 L2746.0 1000.9 L2749.1 950.0 L2752.2 926.9 L2763.0 922.2 L2769.1 917.6 L2772.2 925.3 L2784.6 926.9 L2790.7 923.8 L2801.5 925.3 L2806.2 970.1 L2809.3 979.3 L2812.3 967.0 L2829.3 967.0 L2838.6 977.8 L2841.7 1004.0 L2843.2 1007.1 L2849.4 1005.6 L2857.1 1007.1 L2864.8 988.6 L2872.5 991.7 L2878.7 988.6 L2881.8 994.8 L2883.3 1008.6 L2889.5 1008.6 L2900.3 1017.9 L2906.5 1013.3 L2918.8 1013.3 L2923.5 1000.9 L2932.7 999.4 L2937.3 990.1 L2942.0 999.4 L2949.7 1000.9 L2957.4 1007.1 L2963.6 1010.2 L2968.2 1014.8 L2972.8 1038.0 L2977.5 1044.1 L2991.4 1042.6 L2996.0 1073.5 L3000.0 1075.0 L3007.2 1072.3 L3015.1 1080.2 L3021.0 1077.1 L3028.9 1077.1" stroke="#2e74b8"/>
<path d="M210.2 1385.5 L215.4 1390.1 L220.1 1394.7 L227.8 1397.8 L232.4 1393.2 L238.6 1377.8 L246.3 1373.1 L250.9 1376.2 L255.6 1373.1 L263.3 1368.5 L272.5 1365.4 L291.0 1367.0 L300.3 1373.1 L304.9 1379.3 L309.6 1371.6 L315.7 1377.8 L321.9 1381.5 L326.5 1393.2 L329.6 1397.8 L335.8 1391.6 L343.5 1388.6 L348.1 1388.6 L352.8 1385.5 L359.0 1387.0 L369.1 1392.6 L377.5 1390.1 L383.6 1396.3 L388.3 1390.1 L396.0 1388.6 L400.6 1391.6 L406.8 1391.6 L417.6 1405.5 L420.7 1399.4 L434.6 1410.2 L445.4 1416.3 L452.5 1414.2 L454.6 1425.6 L460.8 1433.3 L463.9 1442.6 L471.6 1448.7 L475.6 1453.4 L480.9 1445.7 L490.1 1439.5 L493.2 1428.7 L497.8 1432.7 L508.0 1425.6 L511.7 1439.5 L521.0 1445.7 L528.7 1451.2 L533.3 1445.7 L548.8 1447.2 L556.5 1448.7 L565.7 1439.5 L571.9 1443.2 L584.3 1436.4 L588.9 1437.9 L596.6 1428.7 L604.3 1422.5 L610.5 1424.0 L615.1 1421.0 L624.4 1422.5 L636.7 1428.7 L641.4 1434.9 L646.0 1431.8 L648.5 1417.9 L655.2 1410.2 L659.9 1410.2 L667.6 1417.9 L676.9 1416.3 L681.5 1407.1 L695.4 1404.0 L698.5 1394.7 L703.1 1402.4 L713.9 1399.4 L718.5 1388.6 L723.1 1387.0 L738.6 1393.2 L750.9 1407.1 L757.1 1405.5 L761.7 1417.9 L772.5 1421.0 L778.7 1417.9 L791.0 1419.4 L795.7 1422.5 L804.9 1421.0 L811.1 1417.9 L817.3 1420.3 L825.0 1422.5 L835.8 1414.8 L846.6 1417.9 L851.2 1415.4 L860.5 1414.8 L869.8 1410.2 L880.6 1411.7 L888.3 1404.0 L894.4 1410.2 L900.0 1411.7 L900.0 1410.5 L904.6 1409.9 L909.9 1413.6 L920.1 1404.3 L920.1 1395.1 L926.2 1398.1 L932.4 1390.4 L940.1 1385.8 L943.2 1376.5 L947.8 1381.2 L958.6 1375.0 L961.7 1385.8 L966.4 1392.0 L974.1 1373.5 L980.9 1376.5 L992.6 1398.1 L999.4 1404.3 L1003.4 1416.7 L1011.1 1418.2 L1015.7 1410.5 L1021.9 1413.0 L1029.6 1413.6 L1031.2 1407.4 L1037.3 1406.8 L1051.2 1415.1 L1056.8 1413.6 L1066.7 1421.3 L1072.8 1420.4 L1078.4 1429.0 L1085.2 1427.5 L1091.4 1427.5 L1094.4 1438.3 L1103.7 1447.5 L1111.4 1444.4 L1114.5 1438.3 L1123.8 1436.7 L1129.9 1442.9 L1136.1 1442.9 L1142.3 1429.0 L1145.4 1438.3 L1150.0 1442.9 L1154.6 1444.4 L1161.7 1451.2 L1163.0 1459.9 L1171.6 1466.0 L1176.2 1468.5 L1182.4 1475.3 L1187.0 1450.6 L1194.8 1439.8 L1199.4 1432.1 L1205.6 1429.0 L1207.1 1435.2 L1221.0 1428.4 L1234.9 1442.0 L1242.6 1442.9 L1258.0 1433.6 L1264.2 1429.0 L1276.5 1439.8 L1279.6 1456.8 L1285.8 1459.3 L1293.5 1460.5 L1298.1 1466.0 L1299.7 1473.8 L1312.0 1478.4 L1315.1 1473.8 L1318.2 1481.5 L1321.3 1479.9 L1327.5 1487.7 L1332.1 1484.6 L1333.6 1478.4 L1338.3 1478.4 L1339.8 1449.1 L1347.5 1442.9 L1352.2 1439.8 L1356.8 1453.7 L1370.7 1452.2 L1375.3 1458.3 L1384.6 1459.9 L1389.2 1452.2 L1392.3 1453.7 L1395.4 1446.0 L1406.2 1446.0 L1410.8 1452.2 L1413.9 1463.0 L1421.6 1463.0 L1426.2 1472.2 L1430.9 1472.2 L1434.0 1481.5 L1441.7 1490.7 L1446.3 1466.0 L1450.9 1458.3 L1457.1 1463.0 L1461.7 1463.0 L1464.8 1455.2 L1480.2 1459.9 L1481.8 1466.0 L1489.5 1461.4 L1497.2 1450.6 L1501.9 1446.9 L1506.5 1447.5 L1514.2 1442.9 L1517.3 1450.6 L1521.9 1449.1 L1532.7 1455.2 L1537.3 1453.7 L1538.9 1449.1 L1543.5 1447.5 L1557.4 1447.5 L1562.0 1467.6 L1568.2 1463.0 L1575.9 1466.0 L1582.1 1472.2 L1592.9 1470.7 L1594.4 1463.0 L1600.0 1478.4 L1600.0 1467.9 L1604.6 1477.2 L1612.3 1475.6 L1617.0 1486.4 L1626.2 1492.6 L1634.0 1498.8 L1643.2 1495.7 L1649.4 1494.1 L1664.8 1495.7 L1672.5 1491.0 L1688.0 1497.2 L1691.0 1517.3 L1701.9 1537.3 L1707.4 1532.7 L1709.6 1546.6 L1721.9 1548.1 L1728.1 1555.9 L1729.6 1566.7 L1737.3 1577.5 L1745.1 1559.0 L1749.7 1557.4 L1754.3 1575.9 L1760.5 1599.1 L1780.6 1609.9 L1785.2 1606.8 L1792.9 1611.4 L1799.1 1606.8 L1802.2 1616.7 L1813.0 1613.6 L1816.0 1603.7 L1822.2 1557.4 L1829.9 1555.9 L1839.2 1562.0 L1850.0 1552.8 L1853.1 1563.6 L1860.8 1566.7 L1871.6 1560.5 L1877.8 1572.8 L1887.0 1568.2 L1891.7 1555.9 L1895.7 1551.2 L1900.9 1560.5 L1908.6 1562.0 L1911.7 1556.8 L1917.9 1560.5 L1930.2 1548.1 L1942.6 1546.0 L1953.4 1552.8 L1962.7 1552.8 L1968.8 1560.5 L1971.9 1575.9 L1979.6 1583.6 L1982.7 1594.4 L1987.3 1589.8 L1990.4 1599.1 L1995.1 1591.4 L2002.8 1586.7 L2005.9 1597.5 L2012.0 1603.7 L2022.8 1606.8 L2025.9 1603.7 L2027.5 1608.3 L2036.7 1603.7 L2042.9 1603.7 L2056.8 1579.0 L2059.9 1583.6 L2067.6 1585.2 L2073.8 1588.3 L2078.4 1583.6 L2083.0 1584.6 L2093.8 1575.9 L2100.0 1577.5 L2104.6 1566.7 L2110.8 1563.6 L2114.8 1549.7 L2121.6 1559.0 L2130.9 1562.0 L2137.0 1551.2 L2149.4 1546.6 L2155.6 1523.5 L2157.1 1520.4 L2164.8 1529.6 L2169.4 1538.9 L2177.2 1538.9 L2184.9 1529.6 L2194.1 1512.7 L2204.9 1503.4 L2208.0 1495.7 L2212.7 1501.9 L2215.7 1511.1 L2229.6 1514.2 L2234.3 1523.5 L2240.4 1523.5 L2245.1 1503.4 L2251.2 1501.9 L2263.6 1492.6 L2266.7 1478.7 L2282.1 1475.6 L2283.6 1446.3 L2286.7 1427.8 L2291.4 1437.0 L2300.0 1424.7 L2300.0 1428.7 L2307.7 1425.6 L2315.4 1424.1 L2323.1 1416.4 L2326.2 1424.1 L2329.3 1438.0 L2340.1 1448.8 L2344.8 1456.5 L2358.6 1458.0 L2363.3 1478.1 L2366.4 1484.3 L2371.0 1482.7 L2375.6 1493.5 L2379.6 1461.1 L2386.4 1462.7 L2392.6 1458.0 L2398.8 1481.2 L2404.9 1482.7 L2409.6 1475.0 L2418.8 1488.9 L2421.9 1504.3 L2429.6 1507.4 L2432.7 1515.1 L2437.3 1504.3 L2442.0 1509.0 L2449.7 1505.9 L2454.3 1527.5 L2460.5 1535.2 L2468.2 1533.6 L2471.3 1513.6 L2475.9 1499.7 L2484.6 1496.6 L2488.3 1513.6 L2492.9 1521.3 L2500.6 1515.1 L2505.2 1516.7 L2511.4 1505.9 L2522.2 1515.1 L2525.9 1556.8 L2543.8 1547.5 L2550.0 1555.2 L2559.3 1552.2 L2563.9 1533.6 L2571.6 1536.7 L2577.8 1536.7 L2584.0 1527.5 L2590.1 1536.7 L2600.9 1530.6 L2607.1 1538.3 L2624.1 1533.6 L2638.0 1525.9 L2642.6 1532.1 L2653.4 1525.9 L2654.9 1510.5 L2659.6 1504.3 L2664.2 1510.5 L2673.5 1499.7 L2679.6 1507.4 L2692.0 1504.3 L2695.1 1485.8 L2701.2 1479.6 L2707.4 1462.7 L2715.1 1451.9 L2730.6 1439.5 L2732.1 1454.9 L2736.7 1464.2 L2746.0 1442.6 L2755.2 1459.6 L2763.0 1450.3 L2769.1 1451.9 L2772.2 1444.1 L2779.9 1438.0 L2786.1 1434.9 L2790.7 1438.0 L2793.8 1433.3 L2800.0 1438.0 L2809.3 1442.6 L2821.6 1439.5 L2827.2 1419.4 L2832.4 1430.2 L2840.1 1470.4 L2843.2 1475.0 L2850.9 1459.6 L2857.1 1459.6 L2858.6 1445.7 L2863.3 1441.0 L2869.4 1442.6 L2878.7 1438.0 L2886.4 1445.7 L2897.2 1450.3 L2898.8 1458.0 L2904.9 1451.9 L2915.7 1454.9 L2926.5 1451.9 L2931.2 1454.9 L2935.8 1473.5 L2938.9 1482.7 L2948.1 1481.2 L2955.9 1488.9 L2960.5 1509.0 L2968.2 1515.1 L2975.9 1527.5 L2985.2 1521.3 L2989.8 1505.9 L3000.0 1501.2 L3007.2 1493.8 L3017.0 1500.5 L3024.9 1522.2 L3028.9 1526.2" stroke="#9ad47f"/>
<path d="M547.8 657.4 L548.8 641.4 L553.4 636.1 L554.9 640.7 L562.7 639.8 L565.7 646.9 L570.4 642.9 L575.0 630.6 L581.2 629.6 L584.3 632.1 L592.0 632.7 L601.2 633.6 L606.8 639.8 L610.5 632.1 L621.3 633.6 L630.6 641.4 L638.3 642.0 L646.0 653.7 L656.8 653.1 L676.9 650.0 L684.6 639.8 L686.1 642.9 L689.2 636.7 L696.9 636.1 L703.1 632.1 L718.5 627.5 L724.7 620.7 L732.4 619.1 L737.0 624.4 L738.6 634.6 L750.9 639.2 L761.7 664.5 L769.4 665.4 L774.1 657.4 L778.7 656.2 L791.0 666.0 L795.1 676.9 L798.8 669.8 L812.7 672.8 L823.5 673.8 L831.2 677.8 L842.0 679.0 L845.1 684.6 L849.7 687.0 L865.1 679.0 L868.2 663.0 L871.3 658.3 L885.2 661.4 L892.9 666.0 L900.0 683.0 L900.0 683.0 L906.2 678.4 L912.3 684.6 L918.5 681.5 L937.0 679.9 L940.1 673.8 L944.8 669.1 L947.8 659.9 L960.2 653.7 L966.4 650.0 L974.1 649.1 L977.2 659.9 L981.8 661.4 L991.0 664.5 L1000.3 673.8 L1012.7 681.5 L1014.2 687.7 L1020.4 693.8 L1029.6 700.0 L1032.7 718.5 L1035.8 726.2 L1038.9 721.6 L1051.2 730.9 L1055.9 726.2 L1059.0 698.5 L1066.7 703.1 L1072.2 710.8 L1077.5 693.8 L1086.7 693.8 L1089.8 670.7 L1100.6 675.3 L1105.2 673.8 L1126.9 684.6 L1129.9 692.3 L1134.6 704.6 L1146.9 700.0 L1156.2 687.7 L1159.3 673.8 L1162.3 676.9 L1165.4 689.2 L1176.2 712.3 L1182.4 726.2 L1190.1 717.0 L1197.8 713.9 L1204.0 695.4 L1224.1 695.4 L1233.3 698.5 L1258.0 699.4 L1265.7 696.9 L1273.5 703.1 L1278.1 715.4 L1293.5 729.3 L1301.2 750.9 L1312.0 777.2 L1315.1 784.9 L1321.3 771.0 L1327.5 767.9 L1332.1 774.1 L1356.8 754.0 L1358.3 749.4 L1366.0 750.9 L1369.1 764.8 L1372.2 767.9 L1375.3 786.4 L1381.5 798.8 L1386.1 801.9 L1389.2 792.6 L1393.8 789.5 L1400.0 791.0 L1409.3 797.2 L1410.8 842.0 L1421.6 862.0 L1426.2 897.5 L1429.3 931.5 L1430.9 992.6 L1431.5 1048.1 L1438.6 1082.1 L1441.7 1085.2 L1444.8 1060.5 L1447.8 1017.3 L1455.6 1023.5 L1461.7 1023.5 L1464.8 986.4 L1466.4 966.4 L1471.0 974.1 L1477.2 978.7 L1484.9 1017.3 L1488.0 1032.7 L1497.2 1035.8 L1501.9 1017.3 L1504.3 977.2 L1507.4 975.6 L1512.7 1001.9 L1518.8 1029.6 L1525.9 1043.5 L1535.8 1015.7 L1537.3 1017.3 L1542.0 992.6 L1554.3 994.1 L1559.0 989.5 L1569.8 989.5 L1574.4 961.7 L1577.5 947.8 L1583.6 952.5 L1600.0 952.5 L1600.0 950.0 L1603.1 962.3 L1609.3 967.0 L1612.3 987.0 L1615.4 1005.6 L1618.5 1027.2 L1626.2 1034.9 L1632.4 1061.1 L1634.6 1101.2 L1637.7 1129.0 L1644.8 1129.0 L1649.4 1107.4 L1650.9 1095.1 L1655.6 1104.3 L1657.1 1054.9 L1666.4 1056.5 L1669.4 1076.5 L1672.5 1092.0 L1686.4 1089.5 L1688.9 1078.1 L1692.6 1074.1 L1704.9 1098.1 L1709.6 1103.7 L1721.9 1112.0 L1725.0 1098.1 L1738.9 1092.0 L1743.5 1101.2 L1746.6 1113.6 L1759.0 1124.4 L1763.6 1135.2 L1769.8 1153.7 L1775.9 1166.0 L1779.0 1196.3 L1783.6 1211.7 L1794.4 1224.1 L1796.0 1267.3 L1797.5 1292.0 L1800.6 1273.5 L1803.7 1242.6 L1813.0 1234.9 L1820.7 1254.9 L1828.4 1258.0 L1834.6 1265.7 L1839.2 1221.0 L1840.7 1184.0 L1842.3 1173.1 L1851.5 1172.2 L1853.1 1156.8 L1856.2 1150.6 L1859.3 1129.0 L1860.8 1088.9 L1870.1 1088.3 L1871.6 1098.1 L1880.9 1138.3 L1885.5 1156.8 L1890.1 1167.6 L1896.3 1153.7 L1908.6 1159.9 L1913.3 1214.8 L1916.4 1233.3 L1927.2 1259.6 L1930.2 1276.5 L1936.4 1282.7 L1948.8 1282.7 L1951.9 1265.7 L1958.0 1270.4 L1965.7 1268.8 L1970.4 1279.6 L1971.9 1363.0 L1982.7 1364.5 L1987.3 1407.7 L1998.1 1413.9 L2001.2 1396.9 L2007.4 1392.3 L2010.5 1409.3 L2021.3 1418.5 L2027.5 1449.4 L2032.1 1458.6 L2042.9 1461.7 L2058.3 1481.8 L2059.9 1463.3 L2066.0 1472.5 L2076.9 1472.5 L2084.0 1481.8 L2092.3 1471.0 L2095.4 1426.2 L2100.0 1429.3 L2110.8 1417.0 L2115.4 1418.5 L2121.6 1437.0 L2130.9 1450.9 L2135.5 1452.5 L2146.3 1440.1 L2150.9 1421.6 L2158.6 1367.6 L2167.9 1372.2 L2172.5 1421.6 L2181.8 1424.7 L2191.0 1421.6 L2194.1 1423.1 L2203.4 1421.6 L2214.2 1427.8 L2228.1 1420.1 L2240.4 1418.5 L2243.5 1420.1 L2249.7 1418.5 L2254.3 1420.1 L2263.0 1418.5 L2265.1 1366.0 L2271.3 1327.5 L2279.0 1329.0 L2283.6 1341.4 L2289.8 1342.9 L2300.0 1338.3 L2300.0 1343.8 L2307.7 1337.7 L2318.5 1350.0 L2324.7 1336.1 L2330.9 1340.7 L2338.6 1343.8 L2341.7 1320.7 L2344.8 1317.6 L2347.8 1343.8 L2354.0 1353.1 L2364.8 1345.4 L2374.1 1350.0 L2376.5 1360.8 L2384.9 1345.4 L2391.0 1339.2 L2394.1 1343.8 L2398.8 1374.7 L2401.9 1377.8 L2406.5 1367.0 L2415.7 1363.9 L2423.5 1373.1 L2429.6 1380.9 L2432.7 1393.2 L2435.8 1417.9 L2446.6 1434.9 L2451.2 1410.2 L2468.2 1416.4 L2474.4 1425.6 L2488.3 1436.4 L2492.9 1425.6 L2503.7 1427.2 L2509.9 1396.3 L2520.7 1394.8 L2531.5 1414.8 L2540.7 1417.9 L2546.9 1428.7 L2551.5 1438.0 L2562.3 1442.6 L2565.4 1448.8 L2568.5 1438.0 L2576.2 1438.0 L2580.9 1453.4 L2585.5 1444.1 L2593.2 1448.8 L2602.5 1445.7 L2605.6 1436.4 L2616.4 1427.2 L2621.0 1405.6 L2625.6 1404.0 L2639.5 1414.8 L2642.6 1408.6 L2654.9 1404.0 L2665.7 1410.2 L2676.5 1424.1 L2679.6 1439.5 L2692.0 1441.0 L2696.6 1424.1 L2705.9 1408.6 L2712.0 1362.3 L2718.2 1303.7 L2725.9 1288.3 L2730.6 1269.8 L2733.6 1285.2 L2735.2 1323.8 L2744.4 1326.9 L2749.1 1285.2 L2752.2 1265.1 L2763.0 1269.8 L2766.0 1291.4 L2770.7 1296.0 L2779.9 1297.5 L2784.6 1306.8 L2790.7 1294.4 L2798.5 1277.5 L2804.6 1268.2 L2809.3 1275.9 L2820.1 1269.8 L2824.7 1245.1 L2829.3 1236.4 L2838.6 1246.6 L2844.8 1282.1 L2849.4 1289.8 L2858.6 1289.8 L2864.8 1274.4 L2874.1 1268.2 L2878.7 1266.7 L2881.8 1300.6 L2894.1 1296.0 L2903.4 1292.9 L2906.5 1272.8 L2912.7 1268.2 L2917.3 1272.8 L2926.5 1272.8 L2935.8 1280.6 L2943.5 1294.4 L2955.9 1297.5 L2959.0 1294.4 L2968.2 1296.0 L2974.4 1317.6 L2983.6 1317.6 L2992.9 1311.4 L3000.0 1313.0 L3005.2 1313.1 L3015.1 1307.1 L3028.9 1303.2" stroke="#fdc15a"/>
</g>
<text transform="translate(226.5 1902.0) rotate(-45)" x="0" y="0" font-size="54" fill="#5f656d" text-anchor="end" textLength="212.0" lengthAdjust="spacingAndGlyphs">Dec-2020</text>
<text transform="translate(391.5 1902.0) rotate(-45)" x="0" y="0" font-size="54" fill="#5f656d" text-anchor="end" textLength="195.0" lengthAdjust="spacingAndGlyphs">Feb-2021</text>
<text transform="translate(548.5 1902.0) rotate(-45)" x="0" y="0" font-size="54" fill="#5f656d" text-anchor="end" textLength="191.0" lengthAdjust="spacingAndGlyphs">Apr-2021</text>
<text transform="translate(710.9 1902.0) rotate(-45)" x="0" y="0" font-size="54" fill="#5f656d" text-anchor="end" textLength="180.0" lengthAdjust="spacingAndGlyphs">Jun-2021</text>
<text transform="translate(873.2 1902.0) rotate(-45)" x="0" y="0" font-size="54" fill="#5f656d" text-anchor="end" textLength="191.0" lengthAdjust="spacingAndGlyphs">Aug-2021</text>
<text transform="translate(1035.6 1902.0) rotate(-45)" x="0" y="0" font-size="54" fill="#5f656d" text-anchor="end" textLength="191.0" lengthAdjust="spacingAndGlyphs">Oct-2021</text>
<text transform="translate(1197.9 1902.0) rotate(-45)" x="0" y="0" font-size="54" fill="#5f656d" text-anchor="end" textLength="204.0" lengthAdjust="spacingAndGlyphs">Dec-2021</text>
<text transform="translate(1362.9 1902.0) rotate(-45)" x="0" y="0" font-size="54" fill="#5f656d" text-anchor="end" textLength="204.0" lengthAdjust="spacingAndGlyphs">Feb-2022</text>
<text transform="translate(1519.9 1902.0) rotate(-45)" x="0" y="0" font-size="54" fill="#5f656d" text-anchor="end" textLength="199.0" lengthAdjust="spacingAndGlyphs">Apr-2022</text>
<text transform="translate(1682.3 1902.0) rotate(-45)" x="0" y="0" font-size="54" fill="#5f656d" text-anchor="end" textLength="187.0" lengthAdjust="spacingAndGlyphs">Jun-2022</text>
<text transform="translate(1844.6 1902.0) rotate(-45)" x="0" y="0" font-size="54" fill="#5f656d" text-anchor="end" textLength="197.5" lengthAdjust="spacingAndGlyphs">Aug-2022</text>
<text transform="translate(2007.0 1902.0) rotate(-45)" x="0" y="0" font-size="54" fill="#5f656d" text-anchor="end" textLength="197.0" lengthAdjust="spacingAndGlyphs">Oct-2022</text>
<text transform="translate(2169.3 1902.0) rotate(-45)" x="0" y="0" font-size="54" fill="#5f656d" text-anchor="end" textLength="212.0" lengthAdjust="spacingAndGlyphs">Dec-2022</text>
<text transform="translate(2334.3 1902.0) rotate(-45)" x="0" y="0" font-size="54" fill="#5f656d" text-anchor="end" textLength="202.0" lengthAdjust="spacingAndGlyphs">Feb-2023</text>
<text transform="translate(2491.4 1902.0) rotate(-45)" x="0" y="0" font-size="54" fill="#5f656d" text-anchor="end" textLength="198.0" lengthAdjust="spacingAndGlyphs">Apr-2023</text>
<text transform="translate(2653.7 1902.0) rotate(-45)" x="0" y="0" font-size="54" fill="#5f656d" text-anchor="end" textLength="186.0" lengthAdjust="spacingAndGlyphs">Jun-2023</text>
<text transform="translate(2816.0 1902.0) rotate(-45)" x="0" y="0" font-size="54" fill="#5f656d" text-anchor="end" textLength="197.0" lengthAdjust="spacingAndGlyphs">Aug-2023</text>
<text transform="translate(2978.4 1902.0) rotate(-45)" x="0" y="0" font-size="54" fill="#5f656d" text-anchor="end" textLength="198.0" lengthAdjust="spacingAndGlyphs">Oct-2023</text>
<line x1="715.2" y1="2106.0" x2="802.8" y2="2106.0" stroke="#7bb0e4" stroke-width="14" stroke-linecap="round"/>
<text x="812.3" y="2123.7" font-size="54.0" fill="#5f656d" text-anchor="start" font-weight="normal" textLength="247.7" lengthAdjust="spacingAndGlyphs">Zambia 24</text>
<line x1="1384.4" y1="2106.0" x2="1472.0" y2="2106.0" stroke="#e58a18" stroke-width="14" stroke-linecap="round"/>
<text x="1479.7" y="2123.7" font-size="54.0" fill="#5f656d" text-anchor="start" font-weight="normal" textLength="281.0" lengthAdjust="spacingAndGlyphs">Sri Lanka 28</text>
<line x1="2054.0" y1="2106.0" x2="2141.6" y2="2106.0" stroke="#9ea3a5" stroke-width="14" stroke-linecap="round"/>
<text x="2149.4" y="2123.7" font-size="54.0" fill="#5f656d" text-anchor="start" font-weight="normal" textLength="223.0" lengthAdjust="spacingAndGlyphs">Ghana 23</text>
<line x1="715.2" y1="2198.7" x2="802.8" y2="2198.7" stroke="#2e74b8" stroke-width="14" stroke-linecap="round"/>
<text x="812.0" y="2216.4" font-size="54.0" fill="#5f656d" text-anchor="start" font-weight="normal" textLength="203.0" lengthAdjust="spacingAndGlyphs">Egypt 27</text>
<line x1="1384.4" y1="2198.7" x2="1472.0" y2="2198.7" stroke="#9ad47f" stroke-width="14" stroke-linecap="round"/>
<text x="1482.9" y="2216.4" font-size="54.0" fill="#5f656d" text-anchor="start" font-weight="normal" textLength="304.4" lengthAdjust="spacingAndGlyphs">Argentina 30</text>
<line x1="2054.0" y1="2198.7" x2="2141.6" y2="2198.7" stroke="#fdc15a" stroke-width="14" stroke-linecap="round"/>
<text x="2147.3" y="2216.4" font-size="54.0" fill="#5f656d" text-anchor="start" font-weight="normal" textLength="263.0" lengthAdjust="spacingAndGlyphs">Pakistan 31</text>
</svg>
</body></html>
